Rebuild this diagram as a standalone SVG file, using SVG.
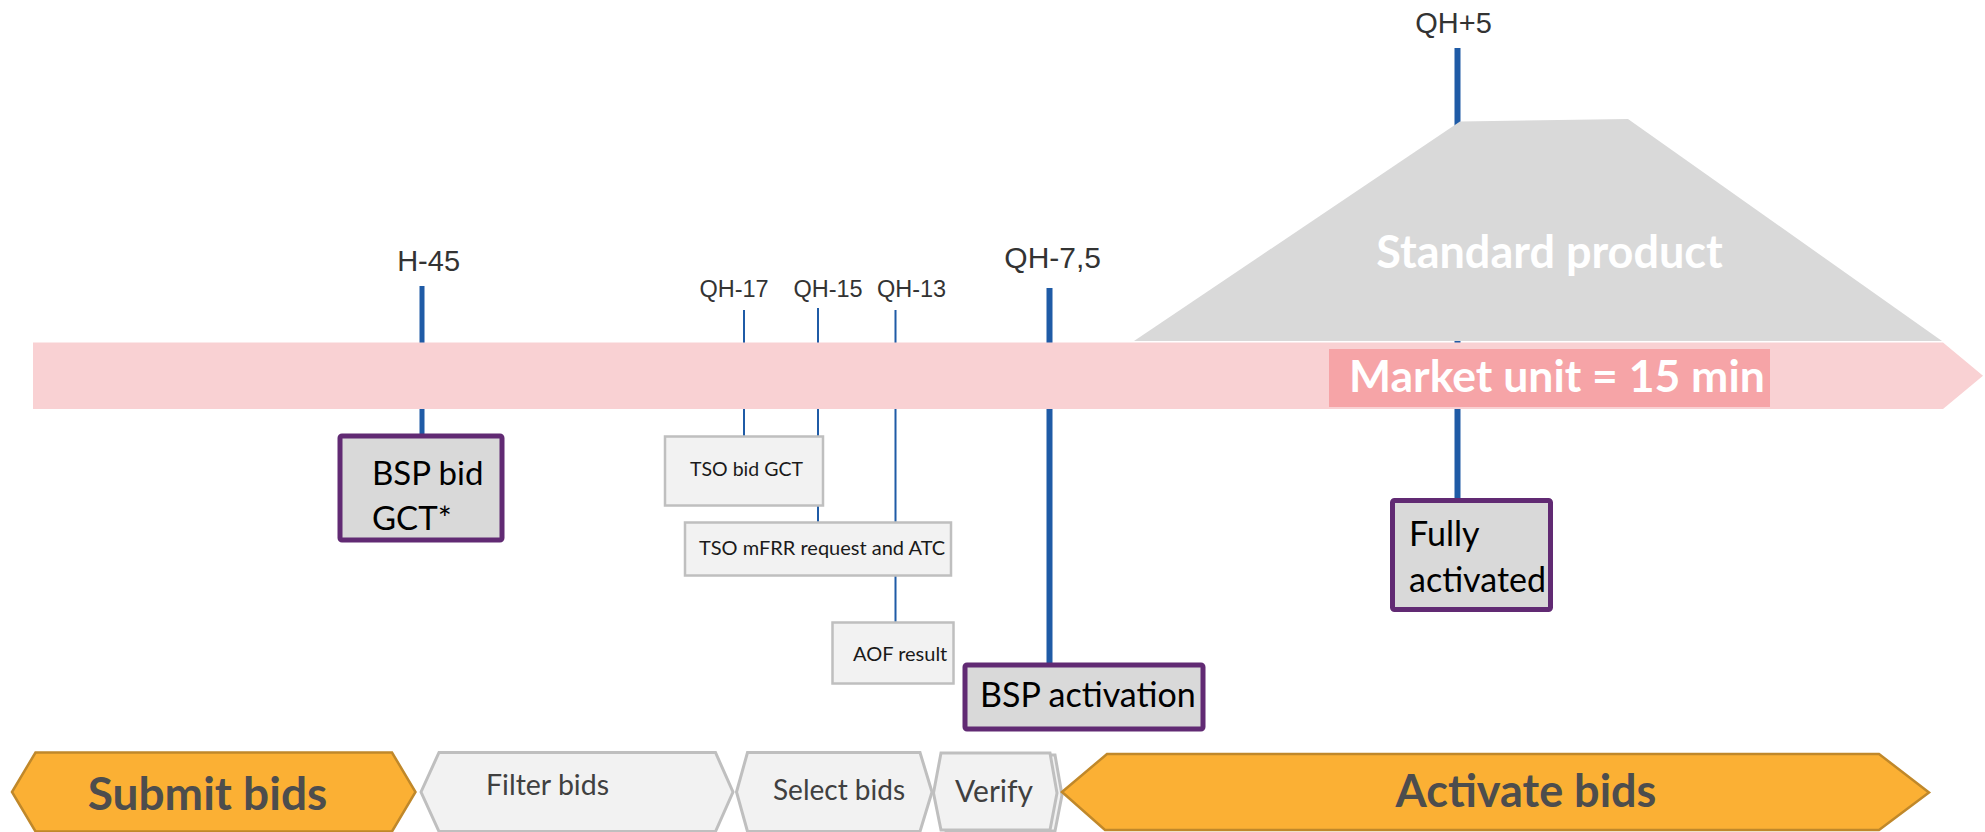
<svg xmlns="http://www.w3.org/2000/svg" width="1985" height="832" viewBox="0 0 1985 832">
<style>
.lbl{font-family:"Liberation Sans",Arial,sans-serif;fill:#333333;text-anchor:middle}
.cal{font-family:Lato,"Open Sans",sans-serif}
.pbox{fill:#D9D9D9;stroke:#612A73;stroke-width:5}
.gbox{fill:#F2F2F2;stroke:#BFBFBF;stroke-width:2.5}
.orange{fill:#FBB034;stroke:#C0882A;stroke-width:2.5}
.grey{fill:#F2F2F2;stroke:#BFBFBF;stroke-width:3}
.tick{stroke:#1F5BA6;fill:none}
.white{fill:#FFFFFF;font-weight:bold}
.dark{fill:#4D4D4D;font-weight:bold;text-anchor:middle}
.step{fill:#404040}
</style>
<rect width="1985" height="832" fill="#FFFFFF"/>
<g id="connectors">
<line class="tick" x1="422" y1="286" x2="422" y2="436" stroke-width="5"/>
<line class="tick" x1="744" y1="310" x2="744" y2="437" stroke-width="2"/>
<line class="tick" x1="818" y1="308" x2="818" y2="523" stroke-width="2"/>
<line class="tick" x1="895.5" y1="310" x2="895.5" y2="623" stroke-width="2"/>
<line class="tick" x1="1049.5" y1="288" x2="1049.5" y2="665" stroke-width="6"/>
<line class="tick" x1="1457.5" y1="48" x2="1457.5" y2="500" stroke-width="6"/>
</g>
<g id="standard-product">
<path d="M1134,341 L1460,121.5 L1628,119 L1942,341 Z" fill="#D9D9D9"/>
<text class="cal white" x="1549.5" y="268" font-size="45" text-anchor="middle" fill="#F5F5F5">Standard product</text>
</g>
<g id="timeline">
<path d="M33,342.5 H1943 L1983,375.7 L1943,409 H33 Z" fill="#F9D1D3"/>
<rect x="1329" y="349" width="441" height="58" fill="#F6A4A7"/>
<text class="cal white" x="1349" y="392" font-size="44.5">Market unit = 15 min</text>
</g>
<g id="time-labels">
<text class="lbl" x="428.6" y="271" font-size="29">H-45</text>
<text class="lbl" x="734" y="297" font-size="23.5">QH-17</text>
<text class="lbl" x="828" y="297" font-size="23.5">QH-15</text>
<text class="lbl" x="911.5" y="297" font-size="23.5">QH-13</text>
<text class="lbl" x="1052.7" y="268" font-size="30">QH-7,5</text>
<text class="lbl" x="1453.5" y="32.5" font-size="29">QH+5</text>
</g>
<g id="bsp-bid-gct">
<rect class="pbox" x="340" y="436" width="162" height="104" rx="2"/>
<text class="cal" x="372" y="485" font-size="33" fill="#000000">BSP bid</text>
<text class="cal" x="372" y="530" font-size="33" fill="#000000">GCT*</text>
</g>
<g id="tso-bid-gct">
<rect class="gbox" x="665" y="436.5" width="158" height="69"/>
<text class="cal" x="690" y="476" font-size="19.5" fill="#1A1A1A">TSO bid GCT</text>
</g>
<g id="tso-mfrr">
<rect class="gbox" x="685" y="522.5" width="266" height="53"/>
<text class="cal" x="699" y="555" font-size="20" fill="#1A1A1A">TSO mFRR request and ATC</text>
</g>
<g id="aof-result">
<rect class="gbox" x="832.5" y="622.5" width="121" height="61"/>
<text class="cal" x="853" y="661" font-size="20" fill="#1A1A1A">AOF result</text>
</g>
<g id="bsp-activation">
<rect class="pbox" x="965" y="665" width="238" height="64" rx="2"/>
<text class="cal" x="980" y="707" font-size="34" fill="#000000">BSP activation</text>
</g>
<g id="fully-activated">
<rect class="pbox" x="1392.5" y="500.5" width="158" height="109" rx="2"/>
<text class="cal" x="1409" y="546" font-size="34" fill="#000000">Fully</text>
<text class="cal" x="1409" y="592" font-size="34" fill="#000000">activated</text>
</g>
<g id="submit-bids">
<path class="orange" d="M12,792 L35.5,752.5 L392,752.5 L415.5,792 L392,831.5 L35.5,831.5 Z"/>
<text class="cal dark" x="207.5" y="810" font-size="46">Submit bids</text>
</g>
<g id="filter-bids">
<path class="grey" d="M421,792 L439,752.5 L715.5,752.5 L733,792 L715.5,831.5 L439,831.5 Z"/>
<text class="cal step" x="486" y="795" font-size="28.5">Filter bids</text>
</g>
<g id="select-bids">
<path class="grey" d="M736.5,792 L747.5,752.5 L920,752.5 L932,792 L920,831.5 L747.5,831.5 Z"/>
<text class="cal step" x="773" y="800" font-size="28">Select bids</text>
</g>
<g id="verify">
<path class="grey" d="M938.5,795 L946,755 L1055,755 L1062,795 L1055,831 L946,831 Z"/>
<path class="grey" d="M933.5,793 L941,753 L1050,753 L1057,793 L1050,830 L941,830 Z"/>
<text class="cal step" x="955" y="801.7" font-size="30">Verify</text>
</g>
<g id="activate-bids">
<path class="orange" d="M1062,792 L1107,754 L1879,754 L1929,792.5 L1879,830 L1105,830 Z"/>
<text class="cal dark" x="1526" y="807" font-size="45">Activate bids</text>
</g>
</svg>
